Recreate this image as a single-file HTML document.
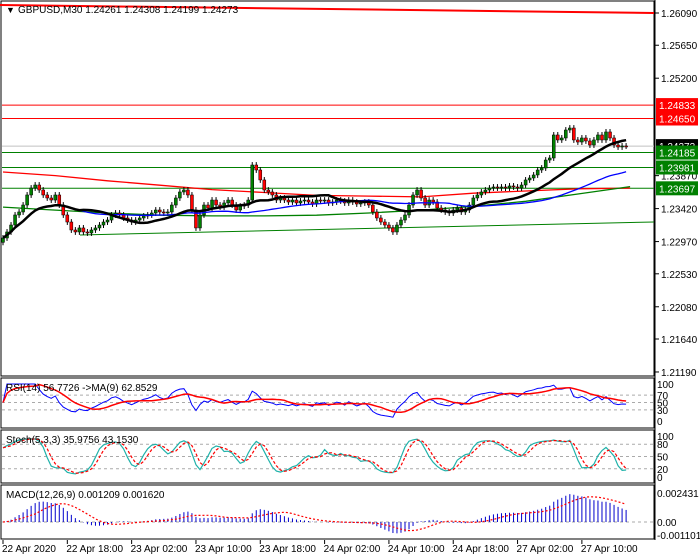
<!DOCTYPE html>
<html><head><meta charset="utf-8"><style>
html,body{margin:0;padding:0;background:#fff;}
svg{display:block;font-family:"Liberation Sans",sans-serif;font-size:10px;}
</style></head><body>
<svg id="c" width="700" height="560" xmlns="http://www.w3.org/2000/svg"></svg>
<script>
// ---- data ----
const closes=[1.23019,1.23101,1.23196,1.23333,1.23374,1.23469,1.23606,1.23701,1.23742,1.23674,
1.23606,1.23565,1.23537,1.23606,1.23469,1.23333,1.23237,1.23128,1.23101,1.23156,
1.23101,1.23087,1.23128,1.23156,1.23196,1.23237,1.23264,1.23333,1.23360,1.23333,
1.23292,1.23264,1.23237,1.23264,1.23292,1.23319,1.23333,1.23360,1.23401,1.23374,
1.23360,1.23374,1.23469,1.23565,1.23647,1.23674,1.23606,1.23401,1.23156,1.23333,
1.23469,1.23428,1.23537,1.23469,1.23442,1.23497,1.23537,1.23469,1.23401,1.23455,
1.23469,1.23537,1.24015,1.23947,1.23811,1.23674,1.23647,1.23606,1.23537,1.23565,
1.23537,1.23510,1.23537,1.23497,1.23524,1.23537,1.23510,1.23483,1.23537,1.23524,
1.23537,1.23497,1.23510,1.23537,1.23524,1.23497,1.23537,1.23510,1.23483,1.23497,
1.23510,1.23469,1.23374,1.23292,1.23237,1.23196,1.23156,1.23101,1.23196,1.23264,
1.23333,1.23469,1.23606,1.23674,1.23565,1.23469,1.23537,1.23510,1.23428,1.23401,
1.23374,1.23360,1.23401,1.23428,1.23374,1.23401,1.23469,1.23565,1.23606,1.23647,
1.23674,1.23701,1.23715,1.23701,1.23715,1.23701,1.23729,1.23715,1.23701,1.23742,
1.23811,1.23838,1.23879,1.23947,1.23974,1.24083,1.24111,1.24425,1.24357,1.24384,
1.24493,1.24520,1.24357,1.24329,1.24384,1.24343,1.24288,1.24357,1.24425,1.24357,
1.24466,1.24384,1.24288,1.24261,1.24275,1.24273];
const firstOpen=1.22960;
const hLevelsGreen=[1.24185,1.23981,1.23697];
const hLevelsRed=[1.24833,1.24650];
const redSlowMA=[1.23920,1.23870,1.23800,1.23740,1.23680,1.23640,1.23600,1.23590,1.23580,1.23630,1.23660,1.23690,1.23700];
const greenSlowMA=[1.23440,1.23400,1.23360,1.23330,1.23320,1.23320,1.23330,1.23360,1.23400,1.23450,1.23520,1.23620,1.23720];
const priceTicks=[1.26090,1.25650,1.25200,1.23870,1.23420,1.22970,1.22530,1.22080,1.21640,1.21190];
const timeLabels=["22 Apr 2020","22 Apr 18:00","23 Apr 02:00","23 Apr 10:00","23 Apr 18:00","24 Apr 02:00","24 Apr 10:00","24 Apr 18:00","27 Apr 02:00","27 Apr 10:00"];
const timeLabelBars=[0,16,32,48,64,80,96,112,128,144];
// ---- scales ----
const NS="http://www.w3.org/2000/svg",svg=document.getElementById('c');
const bx=i=>3+4.02*i;
const py=p=>13+(1.2609-p)*7326;
const ry=v=>421-0.37*v;
const sy=v=>477-0.41*v;
const my=v=>522-v*(29/0.002431);
function el(t,a,txt){const e=document.createElementNS(NS,t);for(const k in a)e.setAttribute(k,a[k]);if(txt!==undefined)e.textContent=txt;svg.appendChild(e);return e;}
function poly(pts,col,w,dash){return el('polyline',{points:pts.map(p=>p[0].toFixed(1)+','+p[1].toFixed(1)).join(' '),fill:'none',stroke:col,'stroke-width':w,'stroke-dasharray':dash||'none'});}
const n=closes.length;
const opens=closes.map((c,i)=>i?closes[i-1]:firstOpen);
const highs=closes.map((c,i)=>Math.max(c,opens[i])+0.0004);
const lows=closes.map((c,i)=>Math.min(c,opens[i])-0.0004);
function sma(a,p){return a.map((v,i)=>{const s=a.slice(Math.max(0,i-p+1),i+1);return s.reduce((x,y)=>x+y,0)/s.length;});}
function ema(a,p){const k=2/(p+1);let r=[];a.forEach((v,i)=>r.push(i?r[i-1]+k*(v-r[i-1]):v));return r;}
// ---- frames ----
let f;
f=el('rect',{x:1,y:1,width:653,height:375,fill:'none',stroke:'#000','stroke-width':1});

f=el('rect',{x:1,y:378,width:653,height:50,fill:'none',stroke:'#000'});

f=el('rect',{x:1,y:430,width:653,height:53,fill:'none',stroke:'#000'});

f=el('rect',{x:1,y:485,width:653,height:54,fill:'none',stroke:'#000'});

// ---- main lines ----
let l=el('line',{x1:0,y1:5,x2:654,y2:13,stroke:'#f00','stroke-width':2});

hLevelsRed.forEach(v=>{const e=el('line',{x1:2,x2:654,y1:py(v),y2:py(v),stroke:'#f00','stroke-width':1});
});
hLevelsGreen.forEach(v=>{const e=el('line',{x1:2,x2:654,y1:py(v),y2:py(v),stroke:'#008000','stroke-width':1});
});
l=el('line',{x1:2,x2:654,y1:py(closes[n-1]),y2:py(closes[n-1]),stroke:'#c0c0c0'});

l=el('line',{x1:80,y1:235,x2:654,y2:222,stroke:'#008000'});

let pl=poly(redSlowMA.map((v,k)=>[bx(k*13),py(v)]),'#f00',1.3);

pl=poly(greenSlowMA.map((v,k)=>[bx(k*13),py(v)]),'#008000',1.3);

// candles
closes.forEach((c,i)=>{const o=opens[i],x=bx(i);
 const w=el('line',{x1:x,x2:x,y1:py(highs[i]),y2:py(lows[i]),stroke:'#000','stroke-width':1});
 
 const t=py(Math.max(o,c)),b=py(Math.min(o,c));
 const r=el('rect',{x:x-1.5,y:t,width:3,height:Math.max(1,b-t),fill:c>=o?'#008000':'#f00',stroke:'#000','stroke-width':0.5});
 });
const maBlue=sma(closes,50),maBlack=sma(closes,20);
pl=poly(maBlue.map((v,i)=>[bx(i),py(v)]),'#00f',1.3);

pl=poly(maBlack.map((v,i)=>[bx(i),py(v)]),'#000',2.5);

// ---- right axis ----
l=el('line',{x1:655,x2:655,y1:0,y2:540,stroke:'#000'});

priceTicks.forEach(v=>{const y=py(v);el('line',{x1:655,x2:659,y1:y,y2:y,stroke:'#000'});
 const t=el('text',{x:661,y:y+4},v.toFixed(5));});
function tag(v,bg,fg){const y=py(v);const r=el('rect',{x:656,y:y-7,width:42,height:14,fill:bg});
 
 const t=el('text',{x:659,y:y+4,fill:fg},v.toFixed(5));}
tag(closes[n-1],'#000','#fff');
hLevelsRed.forEach(v=>tag(v,'#f00','#fff'));
hLevelsGreen.forEach(v=>tag(v,'#008000','#fff'));
// header
let h=el('text',{x:6,y:13,'font-size':'9'},'▼');
h=el('text',{x:18,y:13},'GBPUSD,M30  1.24261 1.24308 1.24199 1.24273');
// ---- RSI ----
[70,50,30].forEach(v=>el('line',{x1:2,x2:654,y1:ry(v),y2:ry(v),stroke:'#aaa','stroke-dasharray':'3,3'}));
[100,70,50,30,0].forEach(v=>{const t=el('text',{x:657,y:ry(v)+4},String(v));});
let gains=[0],loss=[0];for(let i=1;i<n;i++){const d=closes[i]-closes[i-1];gains.push(Math.max(d,0));loss.push(Math.max(-d,0));}
const ag=ema(gains,14),al=ema(loss,14);
const rsi=ag.map((g,i)=>{const s=g+al[i];return s?100*g/s:50;});
const rsiMa=sma(rsi,9);
pl=poly(rsi.map((v,i)=>[bx(i),ry(v)]),'#00f',1);
pl=poly(rsiMa.map((v,i)=>[bx(i),ry(v)]),'#f00',1.5);
h=el('text',{x:6,y:391},'RSI(14) 56.7726  ->MA(9) 62.8529');
// ---- Stoch ----
[80,50,20].forEach(v=>el('line',{x1:2,x2:654,y1:sy(v),y2:sy(v),stroke:'#aaa','stroke-dasharray':'3,3'}));
[100,80,50,20,0].forEach(v=>{const t=el('text',{x:657,y:sy(v)+4},String(v));});
const kRaw=closes.map((c,i)=>{const a=Math.max(0,i-4);const hh=Math.max(...highs.slice(a,i+1)),ll=Math.min(...lows.slice(a,i+1));return 100*(c-ll)/(hh-ll);});
const kLine=sma(kRaw,3),dLine=sma(kLine,3);
pl=poly(kLine.map((v,i)=>[bx(i),sy(v)]),'#20b2aa',1.2);
pl=poly(dLine.map((v,i)=>[bx(i),sy(v)]),'#f00',1.2,'3,2');
h=el('text',{x:6,y:443},'Stoch(5,3,3) 35.9756 43.1530');
// ---- MACD ----
el('line',{x1:2,x2:654,y1:my(0),y2:my(0),stroke:'#aaa','stroke-dasharray':'3,3'});
[[0.002431,'0.002431'],[0,'0.00'],[-0.001101,'-0.001101']].forEach(([v,s])=>{const t=el('text',{x:657,y:my(v)+4},s);});
const e12=ema(closes,12),e26=ema(closes,26);
const macd=e12.map((v,i)=>v-e26[i]);const sig=sma(macd,9);
macd.forEach((v,i)=>{const b=el('line',{x1:bx(i),x2:bx(i),y1:my(0),y2:my(v),stroke:'#00c','stroke-width':1});
 });
pl=poly(sig.map((v,i)=>[bx(i),my(v)]),'#f00',1.2,'2,2');
h=el('text',{x:6,y:498},'MACD(12,26,9) 0.001209 0.001620');
// ---- time axis ----
timeLabels.forEach((s,k)=>{const x=bx(timeLabelBars[k]);el('line',{x1:x,x2:x,y1:540,y2:544,stroke:'#000'});
 const t=el('text',{x:x-1,y:552},s);});
</script>
</body></html>
